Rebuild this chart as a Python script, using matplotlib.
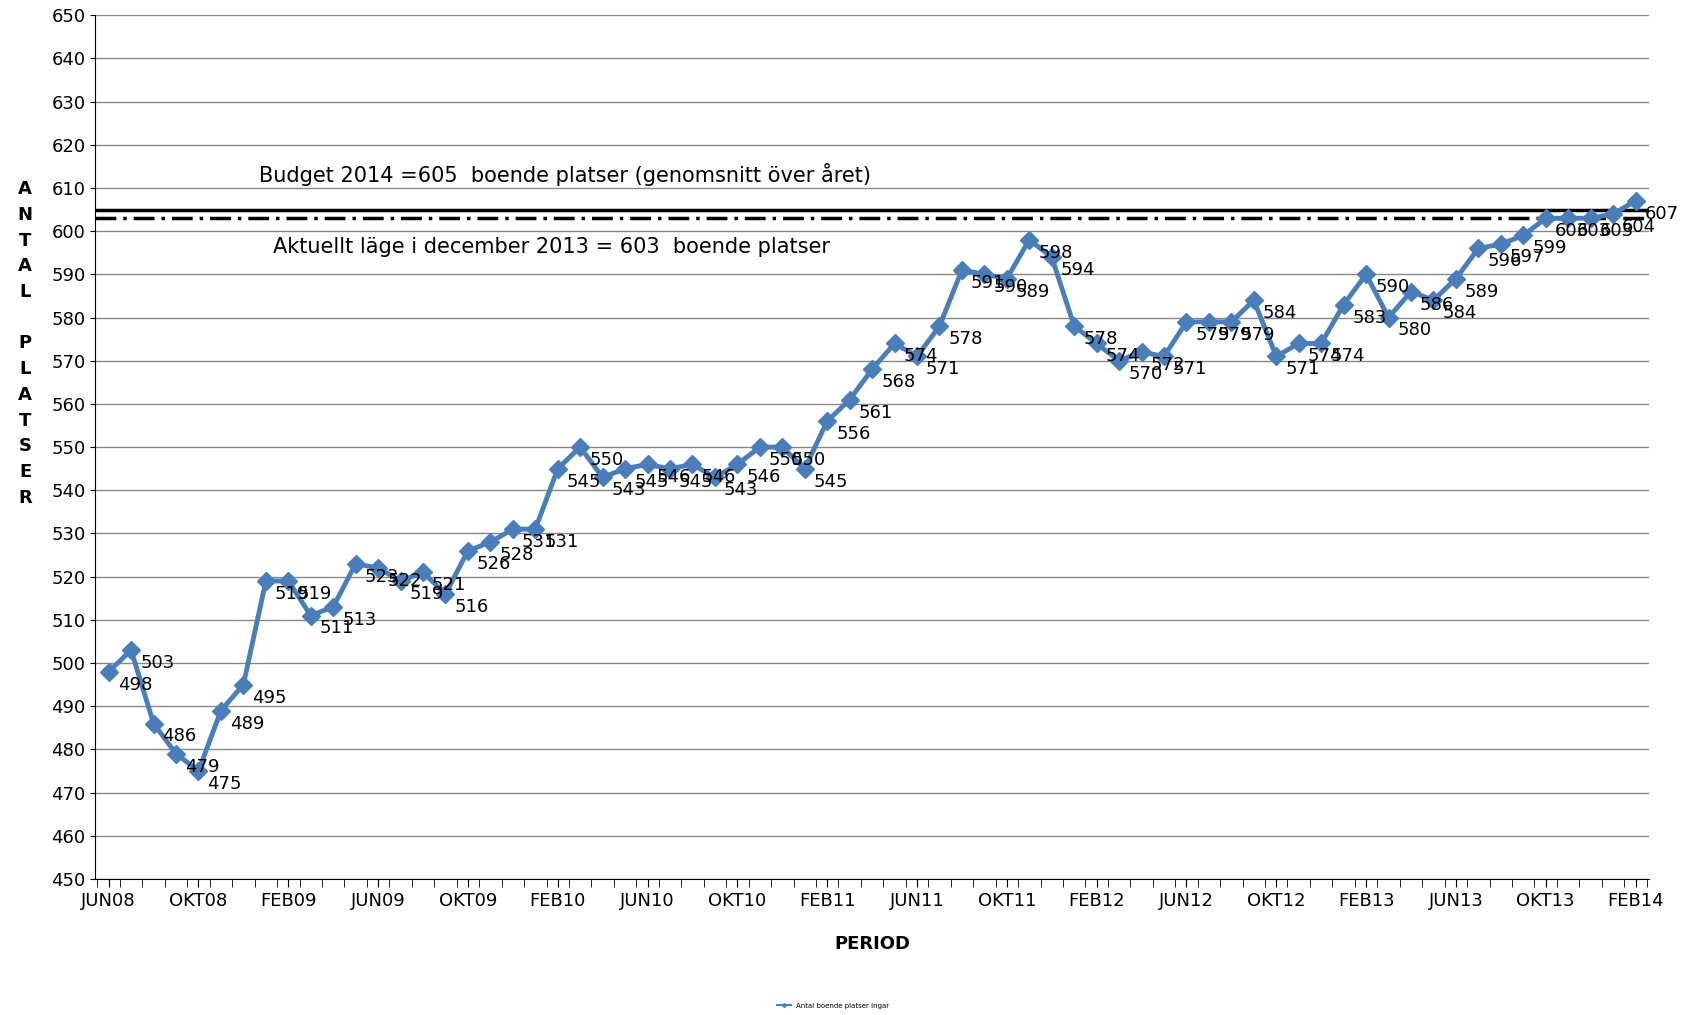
import matplotlib.pyplot as plt
from matplotlib.lines import Line2D
import numpy as np

values = [498, 503, 486, 479, 475, 489, 495,
          519, 519, 511, 513, 523, 522, 519, 521, 516, 526, 528, 531,
          531, 545, 550, 543, 545, 546, 545, 546, 543, 546, 550, 550,
          545, 556, 561, 568, 574, 571, 578, 591, 590, 589, 598, 594,
          578, 574, 570, 572, 571, 579, 579, 579, 584, 571, 574, 574,
          583, 590, 580, 586, 584, 589, 596, 597, 599, 603, 603, 603,
          604, 607]
tick_labels = ["JUN08", "OKT08", "FEB09", "JUN09", "OKT09", "FEB10", "JUN10", "OKT10",
               "FEB11", "JUN11", "OKT11", "FEB12", "JUN12", "OKT12", "FEB13", "JUN13",
               "OKT13", "FEB14"]
budget = 605
aktuellt = 603

x = np.arange(len(values))
fig = plt.figure(figsize=(17, 10.15), dpi=100)
ax = fig.add_axes([0.056, 0.134, 0.914, 0.851])
ax.plot(x, values, color="#4a7ebb", lw=3.5, marker="D", ms=9, zorder=3)
for xi, v in zip(x, values):
    ax.text(xi + 0.4, v - 3, str(v), fontsize=13, va="center", ha="left")
ax.axhline(budget, color="black", lw=2.5)
ax.axhline(aktuellt, color="black", lw=2.5, ls=(0, (6, 2, 1, 2)))
ax.text(6.7, 611.3, "Budget 2014 =605  boende platser (genomsnitt över året)", fontsize=15)
ax.text(7.3, 595, "Aktuellt läge i december 2013 = 603  boende platser", fontsize=15)
ax.set_xlim(-0.6, 68.6)
ax.set_ylim(450, 650)
ax.set_yticks(range(450, 651, 10))
ax.set_xticks(range(0, 69, 4))
ax.set_xticklabels(tick_labels)
ax.set_xticks(np.arange(-0.5, 69, 1), minor=True)
ax.tick_params(axis="x", which="both", length=6)
ax.tick_params(labelsize=13)
ax.grid(axis="y", color="#888888", lw=1)
for s in ["top", "right"]:
    ax.spines[s].set_visible(False)
ax.set_xlabel("PERIOD", fontsize=13, fontweight="bold", labelpad=18)
ax.set_ylabel("A\nN\nT\nA\nL\n\nP\nL\nA\nT\nS\nE\nR", rotation=0, fontsize=13,
              fontweight="bold", va="center", linespacing=1.55)
ax.yaxis.set_label_coords(-0.045, 0.62)
handle = Line2D([], [], color="#4a7ebb", lw=1.5, marker="D", ms=2)
fig.legend([handle], ["Antal boende platser ingar"], loc="lower center",
           bbox_to_anchor=(0.49, 0.0), frameon=False, fontsize=5)
fig.savefig("out.png")
